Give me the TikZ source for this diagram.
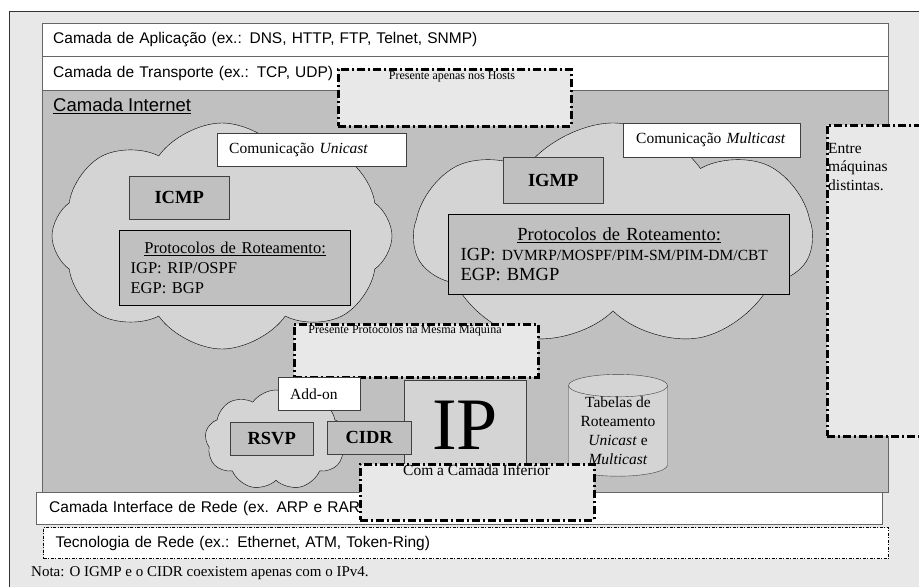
\documentclass[tikz,border=0pt]{standalone}
\usepackage{fontspec}
\setmainfont{Liberation Serif}
\setsansfont{Liberation Sans}
\usetikzlibrary{positioning, shapes.symbols, shapes.geometric}
\definecolor{fundo}{HTML}{E8E8E8}
\definecolor{cinza}{HTML}{C0C0C0}
\definecolor{nuvem}{HTML}{D4D4D4}
\newcommand{\tam}[2]{\fontsize{#1}{#2}\selectfont}

\begin{document}
\begin{tikzpicture}[x=1pt,y=-1pt,
  cam/.style={draw=black!60,fill=white,anchor=north west,align=left,inner xsep=11pt,inner ysep=0pt,font=\sffamily\tam{15.5}{18}},
  rot/.style={draw=black!75,fill=white,anchor=north west,align=left,inner xsep=12pt,inner ysep=0pt,font=\tam{15.5}{18}},
  cx/.style={draw=black!75,fill=cinza,anchor=north west,inner sep=0pt,font=\bfseries\tam{18.5}{22}},
  prot/.style={draw,line width=1.3pt,fill=cinza,anchor=north west,align=left,inner xsep=11pt,inner ysep=0pt},
  nuv/.style={cloud,draw,fill=nuvem,inner sep=0pt,cloud puff arc=110},
  trc/.style={draw,line width=2.5pt,dash pattern=on 8pt off 3pt on 2pt off 3pt,fill=fundo,anchor=north west,inner sep=0pt},
  leg/.style={inner sep=0pt,font=\tam{12}{14}}]
  \useasboundingbox (0,0) rectangle (919,587);
  \fill[fundo] (9,11) rectangle (919,587);
  \draw[black!80] (9,587) |- (919,11);

  % camadas superiores
  \node[cam,text width=824pt,minimum height=33pt] (apl) at (42,23) {Camada de Aplicação (ex.: DNS, HTTP, FTP, Telnet, SNMP)};
  \node[cam,text width=824pt,minimum height=34pt] (trp) at (42,56) {Camada de Transporte (ex.: TCP, UDP)};
  \node[cam,fill=cinza,minimum width=846pt,minimum height=402pt] (inet) at (42,90) {};
  \node[anchor=west,inner sep=0pt,font=\sffamily\tam{18.5}{22}] (tinet) at (53,106) {\underline{Camada Internet}};
  \node[trc,minimum width=233pt,minimum height=57pt] (hosts) at (337,68) {};
  \node[leg] (thosts) at (452,77) {Presente apenas nos Hosts};

  % nuvens unicast / multicast
  \node[nuv,cloud puffs=8,minimum width=340pt,minimum height=226pt] (nuvU) at (222,236) {};
  \node[nuv,cloud puffs=7,minimum width=397pt,minimum height=226pt] (nuvM) at (613,236) {};
  \node[rot,text width=165pt,minimum height=33pt] (uni) at (217,133) {Comunicação \textit{Unicast}};
  \node[rot,inner xsep=13pt,text width=151pt,minimum height=34pt] (mult) at (623,123) {Comunicação \textit{Multicast}};
  \node[cx,minimum width=100pt,minimum height=43pt] (icmp) at (129,176) {ICMP};
  \node[cx,minimum width=100pt,minimum height=46pt] (igmp) at (503,157) {IGMP};
  \node[prot,text width=209pt,minimum height=75pt,font=\tam{16.5}{20}] (rotU) at (119,230)
    {\makebox[\linewidth]{\underline{Protocolos de Roteamento:}}\\IGP: RIP/OSPF\\EGP: BGP};
  \node[prot,inner xsep=12pt,text width=317pt,minimum height=80pt,font=\tam{18.5}{20}] (rotM) at (448,214)
    {\makebox[\linewidth]{\underline{Protocolos de Roteamento:}}\\IGP: {\tam{15.5}{20}DVMRP/MOSPF/PIM-SM/PIM-DM/CBT}\\EGP: BMGP};

  \node[trc,minimum width=100pt,minimum height=311pt] (entre) at (826,124) {};
  \node[anchor=north west,align=left,inner sep=0pt,font=\tam{15.5}{18.5}] (tentre) at (828,143) {Entre\\máquinas\\distintas.};
  \node[trc,minimum width=244pt,minimum height=53pt] (mesma) at (293,323) {};
  \node[leg] (tmesma) at (405,331) {Presente Protocolos na Mesma Máquina};

  % add-on, IP e tabelas
  \node[nuv,cloud puffs=9,minimum width=142pt,minimum height=100pt] (nuvR) at (276,440) {};
  \node[rot,text width=58pt,minimum height=33pt] (addon) at (278,377) {Add-on};
  \node[cx,minimum width=83pt,minimum height=33pt] (rsvp) at (230,422) {RSVP};
  \node[draw=black!75,fill=nuvem,anchor=north west,minimum width=122pt,minimum height=90pt,inner sep=0pt,font=\tam{74}{74}] (ip) at (404,380) {IP};
  \node[cx,minimum width=84pt,minimum height=33pt] (cidr) at (327,421) {CIDR};
  \node[cylinder,shape border rotate=90,draw=black!75,fill=nuvem,aspect=0.3,minimum width=99pt,minimum height=90pt,
    inner sep=0pt,align=center,font=\tam{15.5}{19}] (tab) at (618,431)
    {Tabelas de\\Roteamento\\\textit{Unicast} e\\\textit{Multicast}};

  % camadas inferiores
  \node[cam,inner xsep=13pt,text width=820pt,minimum height=32pt] (intf) at (36,492) {Camada Interface de Rede (ex. ARP e RARP)};
  \node[cam,draw=black,line width=1pt,dash pattern=on 3pt off 1.5pt on 1pt off 1.5pt,inner xsep=12pt,text width=821pt,minimum height=31pt] (tec) at (43,527)
    {Tecnologia de Rede (ex.: Ethernet, ATM, Token-Ring)};
  \node[trc,minimum width=234pt,minimum height=56pt] (inf) at (359,463) {};
  \node[anchor=west,inner sep=0pt,font=\tam{15.5}{18}] (tinf) at (403,470) {Com a Camada Inferior};

  \node[anchor=west,inner sep=0pt,font=\tam{15}{18}] (nota) at (31,573) {Nota: O IGMP e o CIDR coexistem apenas com o IPv4.};
\end{tikzpicture}
\end{document}
